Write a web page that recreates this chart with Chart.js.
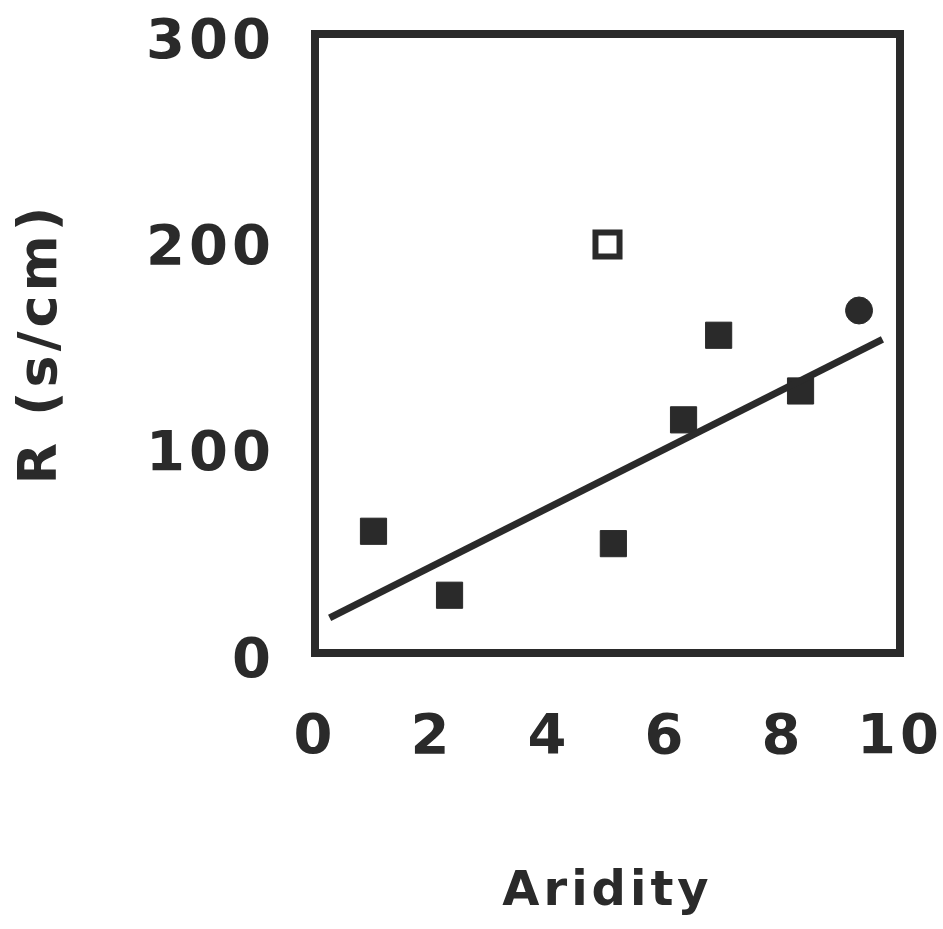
<!DOCTYPE html>
<html>
<head>
<meta charset="utf-8">
<script src="https://cdn.jsdelivr.net/npm/chart.js@4"></script>
<style>
  html, body { margin: 0; padding: 0; background: #fff; }
  #wrap { width: 943px; height: 929px; }
</style>
</head>
<body>
<div id="wrap"><canvas id="chart" width="943" height="929"></canvas></div>
<script>
// values
const filledX = [1.0, 2.3, 5.1, 6.3, 6.9, 8.3];
const filledY = [59, 28, 53, 113, 154, 127];
const openX = [5.0];
const openY = [198];
const circleX = [9.3];
const circleY = [166];
const fitX = [0.25, 9.7];
const fitY = [17, 152];

const xTicks = [0, 2, 4, 6, 8, 10];
const yTicks = [0, 100, 200, 300];

const ink = '#2a2a2a';
const face = 'DejaVu Sans';

const toPoints = (xs, ys) => xs.map((x, i) => ({ x: x, y: ys[i] }));

// letter spaced text + square frame round the plot
const framePlugin = {
  id: 'frame',
  beforeDraw(chart) {
    chart.ctx.letterSpacing = '4px';
  },
  beforeDatasetsDraw(chart) {
    const { ctx, chartArea } = chart;
    ctx.save();
    ctx.strokeStyle = ink;
    ctx.lineWidth = 8;
    ctx.strokeRect(chartArea.left, chartArea.top,
      chartArea.right - chartArea.left, chartArea.bottom - chartArea.top);
    ctx.restore();
  }
};

const ctx = document.getElementById('chart').getContext('2d');
new Chart(ctx, {
  type: 'scatter',
  data: {
    datasets: [
      {
        type: 'line',
        data: toPoints(fitX, fitY),
        borderColor: ink,
        borderWidth: 7,
        pointRadius: 0,
        fill: false
      },
      {
        data: toPoints(filledX, filledY),
        pointStyle: 'rect',
        pointRadius: 18.5,
        backgroundColor: ink,
        borderColor: ink,
        borderWidth: 1
      },
      {
        data: toPoints(openX, openY),
        pointStyle: 'rect',
        pointRadius: 17,
        backgroundColor: '#fff',
        borderColor: ink,
        borderWidth: 6
      },
      {
        data: toPoints(circleX, circleY),
        pointStyle: 'circle',
        pointRadius: 13.5,
        backgroundColor: ink,
        borderColor: ink,
        borderWidth: 1
      }
    ]
  },
  options: {
    responsive: false,
    animation: false,
    layout: { autoPadding: false, padding: { left: 0, top: 34, right: 43, bottom: 0 } },
    plugins: { legend: { display: false }, tooltip: { enabled: false } },
    scales: {
      x: {
        type: 'linear',
        min: 0,
        max: 10,
        afterBuildTicks: (s) => { s.ticks = xTicks.map(v => ({ value: v })); },
        afterFit: (s) => { s.height = 276; s.paddingLeft = 0; s.paddingRight = 0; },
        grid: { display: false },
        border: { display: false },
        ticks: {
          autoSkip: false,
          maxRotation: 0,
          padding: 44,
          color: ink,
          font: { family: face, size: 56, weight: 'bold' }
        },
        title: {
          display: true,
          text: 'Aridity',
          color: ink,
          padding: { top: 0, bottom: 8 },
          font: { family: face, size: 48, weight: 'bold' }
        }
      },
      y: {
        type: 'linear',
        min: 0,
        max: 300,
        afterBuildTicks: (s) => { s.ticks = yTicks.map(v => ({ value: v })); },
        afterFit: (s) => { s.width = 315; s.paddingTop = 0; s.paddingBottom = 0; },
        grid: { display: false },
        border: { display: false },
        ticks: {
          padding: 32,
          labelOffset: 9,
          color: ink,
          font: { family: face, size: 56, weight: 'bold' }
        },
        title: {
          display: true,
          text: 'R (s/cm)',
          color: ink,
          padding: { top: 10, bottom: 0 },
          font: { family: face, size: 54, weight: 'bold' }
        }
      }
    }
  },
  plugins: [framePlugin]
});
</script>
</body>
</html>
